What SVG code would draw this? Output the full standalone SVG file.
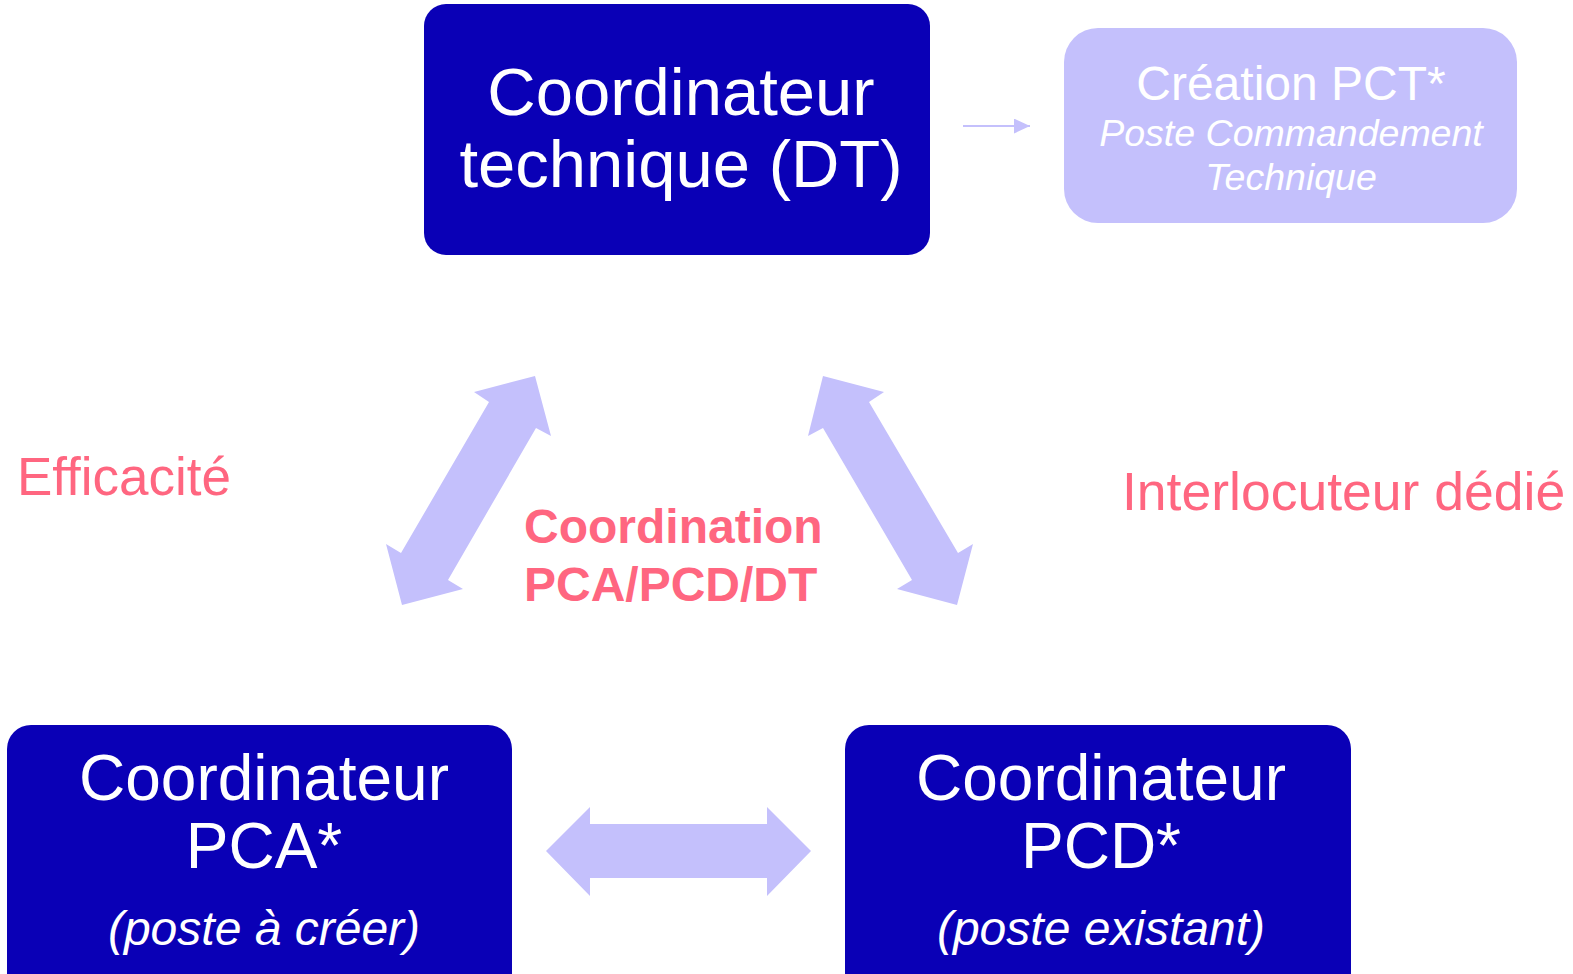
<svg xmlns="http://www.w3.org/2000/svg" width="1573" height="974" viewBox="0 0 1573 974">
<style>
.box{fill:#0A00B6;}
.lbox{fill:#C4C0FC;}
.wt{fill:#FFFFFF;font-family:"Liberation Sans",Arial,sans-serif;text-anchor:middle;}
.pk{fill:#FF6680;font-family:"Liberation Sans",Arial,sans-serif;}
.arr{fill:#C4C0FC;}
</style>
<defs>
<marker id="ah" viewBox="0 0 16 15" refX="16" refY="7.5" markerWidth="16" markerHeight="15" markerUnits="userSpaceOnUse" orient="auto">
<path d="M0,0 L16,7.5 L0,15 Z" fill="#C4C0FC"/>
</marker>
</defs>
<rect width="1573" height="974" fill="#FFFFFF"/>
<g id="dt">
<rect class="box" x="424" y="4" width="506" height="251" rx="22"/>
<text class="wt" x="681" y="115" font-size="67">Coordinateur</text>
<text class="wt" x="681" y="187" font-size="67">technique (DT)</text>
</g>
<g id="pct">
<rect class="lbox" x="1064" y="28" width="453" height="195" rx="34"/>
<text class="wt" x="1291" y="100" font-size="48">Création PCT*</text>
<text class="wt" x="1291" y="146" font-size="37.5" font-style="italic">Poste Commandement</text>
<text class="wt" x="1291" y="190" font-size="37.5" font-style="italic">Technique</text>
</g>
<g id="pca">
<rect class="box" x="7" y="725" width="505" height="290" rx="24"/>
<text class="wt" x="264" y="800" font-size="64">Coordinateur</text>
<text class="wt" x="264" y="868" font-size="64">PCA*</text>
<text class="wt" x="264" y="945" font-size="48" font-style="italic">(poste à créer)</text>
</g>
<g id="pcd">
<rect class="box" x="845" y="725" width="506" height="290" rx="24"/>
<text class="wt" x="1101" y="800" font-size="64">Coordinateur</text>
<text class="wt" x="1101" y="868" font-size="64">PCD*</text>
<text class="wt" x="1101" y="945" font-size="48" font-style="italic">(poste existant)</text>
</g>
<g id="labels">
<text class="pk" x="17" y="495" font-size="53">Efficacité</text>
<text class="pk" x="1122" y="510" font-size="53.5">Interlocuteur dédié</text>
<text class="pk" x="524" y="543" font-size="48" font-weight="bold">Coordination</text>
<text class="pk" x="524" y="601" font-size="48" font-weight="bold">PCA/PCD/DT</text>
</g>
<g id="connectors">
<line x1="963" y1="126" x2="1030" y2="126" stroke="#C4C0FC" stroke-width="2" marker-end="url(#ah)"/>
<polygon class="arr" points="535,376 551,436 536,428 448,580 463,589 402,605 386,544 401,553 489,402 474,392"/>
<polygon class="arr" points="823,376 884,392 869,402 958,553 973,544 957,605 897,589 912,580 823,428 808,436"/>
<polygon class="arr" points="546,851 590,807 590,824 767,824 767,807 811,851 767,896 767,878 590,878 590,896"/>
</g>
</svg>
